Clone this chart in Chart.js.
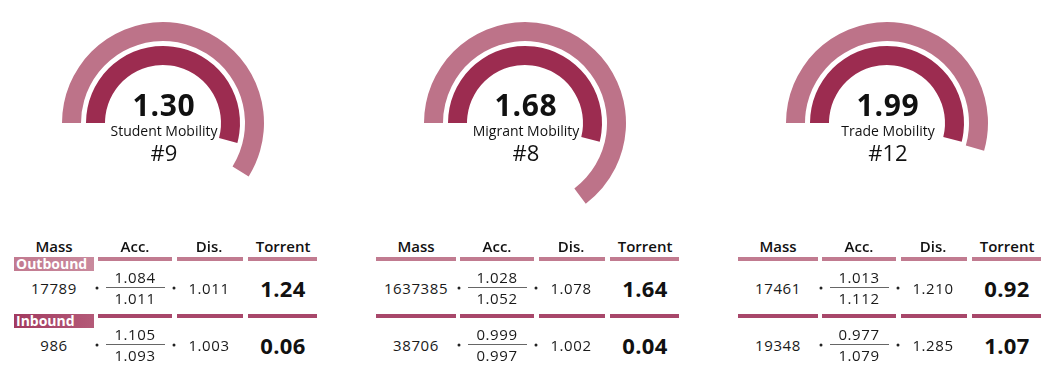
<!DOCTYPE html>
<html>
<head>
<meta charset="utf-8">
<script src="https://cdn.jsdelivr.net/npm/chart.js@4.4.0/dist/chart.umd.min.js"></script>
<style>
html,body{margin:0;padding:0;background:#fff;}
body{width:1048px;height:376px;position:relative;overflow:hidden;font-family:'Open Sans',sans-serif;color:#111;}
.a{position:absolute;white-space:nowrap;line-height:1;}
.c{transform:translate(-50%,-50%);}
.score{font-size:30px;font-weight:700;letter-spacing:0.7px;}
.name{font-size:14px;font-weight:400;}
.rank{font-size:22px;font-weight:400;}
.hdr{font-size:15px;font-weight:600;}
.val{font-size:15px;font-weight:400;letter-spacing:0.6px;color:#1a1a1a;}
.frac{font-size:15px;font-weight:400;letter-spacing:0.6px;color:#1a1a1a;}
.tor{font-size:22px;font-weight:700;letter-spacing:0.4px;}
.dot{width:3px;height:3px;border-radius:50%;background:#222;transform:translate(-50%,-50%);}
.fline{height:1px;background:#666;}
.lab{font-size:14px;font-weight:700;color:#fff;padding-left:2px;box-sizing:border-box;line-height:14px;}
</style>
</head>
<body>
<script>
// ---- data ----
const indicators = ['Student Mobility', 'Migrant Mobility', 'Trade Mobility'];
const scores = ['1.30', '1.68', '1.99'];
const ranks = ['#9', '#8', '#12'];
const outerArcDeg = [212, 233, 196];   // outer ring sweep (degrees, from 9 o'clock clockwise)
const innerArcDeg = [195, 194, 194];   // inner ring sweep
const columnHeaders = ['Mass', 'Acc.', 'Dis.', 'Torrent'];
const rowLabels = ['Outbound', 'Inbound'];
const outboundMass = ['17789', '1637385', '17461'];
const outboundAccNum = ['1.084', '1.028', '1.013'];
const outboundAccDen = ['1.011', '1.052', '1.112'];
const outboundDis = ['1.011', '1.078', '1.210'];
const outboundTorrent = ['1.24', '1.64', '0.92'];
const inboundMass = ['986', '38706', '19348'];
const inboundAccNum = ['1.105', '0.999', '0.977'];
const inboundAccDen = ['1.093', '0.997', '1.079'];
const inboundDis = ['1.003', '1.002', '1.285'];
const inboundTorrent = ['0.06', '0.04', '1.07'];

// ---- layout / style ----
const OUTER = '#bd7389';
const INNER = '#9c2c50';
const BAR1 = '#c17b90';
const BAR2 = '#a8476a';
const gaugeCx = [163, 525, 887];
const gaugeCy = 123;
const colCenters = [40, 121, 195, 269];
const barSpans = [[0, 80], [84, 158], [163, 229], [234, 303]];

function el(cls, x, y, text, center) {
  const d = document.createElement('div');
  d.className = 'a ' + cls + (center ? ' c' : '');
  d.style.left = x + 'px';
  d.style.top = y + 'px';
  if (text !== undefined) d.textContent = text;
  document.body.appendChild(d);
  return d;
}

for (let i = 0; i < 3; i++) {
  const cx = gaugeCx[i];
  const wrap = document.createElement('div');
  wrap.style.cssText = 'position:absolute;left:' + (cx - 110) + 'px;top:' + (gaugeCy - 110) + 'px;width:220px;height:220px;';
  const cv = document.createElement('canvas');
  cv.width = 220; cv.height = 220;
  cv.style.width = '220px'; cv.style.height = '220px';
  wrap.appendChild(cv);
  document.body.appendChild(wrap);
  new Chart(cv, {
    type: 'doughnut',
    data: {
      labels: ['value', 'rest'],
      datasets: [
        { data: [outerArcDeg[i], 360 - outerArcDeg[i]], backgroundColor: [OUTER, 'rgba(0,0,0,0)'], borderWidth: 0, weight: 19 },
        { data: [360], backgroundColor: ['rgba(0,0,0,0)'], borderWidth: 0, weight: 5 },
        { data: [innerArcDeg[i], 360 - innerArcDeg[i]], backgroundColor: [INNER, 'rgba(0,0,0,0)'], borderWidth: 0, weight: 19 }
      ]
    },
    options: {
      responsive: false, animation: false, events: [],
      rotation: -90, circumference: 360,
      radius: 101, cutout: '57.43%',
      layout: { padding: 0 },
      plugins: { legend: { display: false }, tooltip: { enabled: false } }
    }
  });

  el('score', cx + 1, 105, scores[i], true);
  el('name', cx + 1, 131, indicators[i], true);
  el('rank', cx + 1, 152, ranks[i], true);

  // table
  const L = cx - 149;
  columnHeaders.forEach((h, k) => el('hdr', L + colCenters[k], 246, h, true));
  const rows = [
    { y: 288, barY: 257, color: BAR1, mass: outboundMass, num: outboundAccNum, den: outboundAccDen, dis: outboundDis, tor: outboundTorrent },
    { y: 345, barY: 314, color: BAR2, mass: inboundMass, num: inboundAccNum, den: inboundAccDen, dis: inboundDis, tor: inboundTorrent }
  ];
  rows.forEach((r, ri) => {
    barSpans.forEach((s, k) => {
      const b = el('', L + s[0], r.barY);
      b.style.width = (s[1] - s[0]) + 'px';
      if (k === 0 && i === 0) {
        b.style.height = '14px';
        b.style.background = ri === 0 ? 'linear-gradient(90deg,#c27a90,#c98a9d)' : 'linear-gradient(90deg,#a23a60,#b45a78)';
        b.className = 'a lab';
        b.textContent = rowLabels[ri];
      } else {
        b.style.height = '4px';
        b.style.background = r.color;
      }
    });
    el('val', L + colCenters[0], r.y, r.mass[i], true);
    el('dot', L + 83, r.y);
    el('dot', L + 160, r.y);
    el('frac', L + 121, r.y - 11, r.num[i], true);
    const fl = el('fline', L + 92, r.y - 1);
    fl.style.width = '59px';
    el('frac', L + 121, r.y + 10, r.den[i], true);
    el('val', L + colCenters[2], r.y, r.dis[i], true);
    el('tor', L + colCenters[3], r.y, r.tor[i], true);
  });
}
</script>
</body>
</html>
